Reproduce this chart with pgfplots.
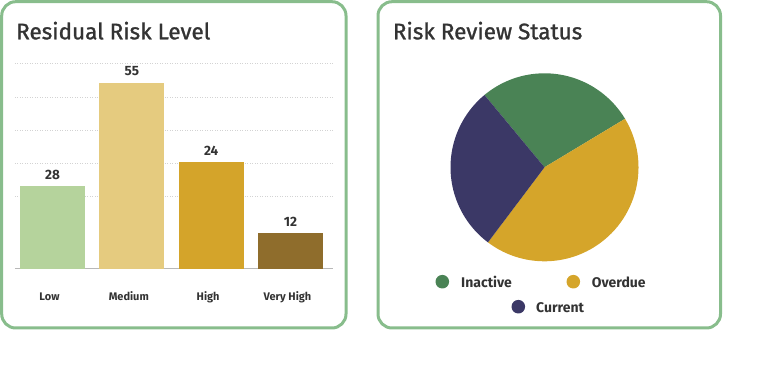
\documentclass[border=0pt]{standalone}
\usepackage{pgfplots}
\pgfplotsset{compat=1.18}
\usepackage{fontspec}
\setmainfont{Fira Sans}
\newfontfamily\titlefont{Fira Sans}[FakeBold=1.2]
\definecolor{panel}{HTML}{88BD8C}
\definecolor{txt}{HTML}{333333}
\definecolor{cLow}{HTML}{B5D39C}
\definecolor{cMed}{HTML}{E5CB7F}
\definecolor{cHigh}{HTML}{D4A42A}
\definecolor{cVH}{HTML}{8F6D2C}
\definecolor{cInactive}{HTML}{4A8355}
\definecolor{cOverdue}{HTML}{D5A52A}
\definecolor{cCurrent}{HTML}{3B3866}
\definecolor{gridc}{HTML}{D3D3D3}
\definecolor{axisline}{HTML}{B8B8B8}
% pie shares (percent)
\def\vInactive{27.4}
\def\vOverdue{43.9}
\def\vCurrent{28.7}
\def\pieStart{129.7}
\begin{document}
\begin{tikzpicture}
\path[use as bounding box] (0pt,0pt) rectangle (770pt,366pt);
\draw[panel, line width=3pt, rounded corners=14pt] (1.7pt,364.3pt) rectangle (346pt,38pt);
\draw[panel, line width=3pt, rounded corners=14pt] (378pt,364.3pt) rectangle (720.5pt,38pt);
\node[anchor=base west, inner sep=0pt, text=txt, font=\titlefont\fontsize{22.5}{27}\selectfont] at (16pt,326.7pt) {Residual Risk Level};
\node[anchor=base west, inner sep=0pt, text=txt, font=\titlefont\fontsize{22.5}{27}\selectfont] at (392.7pt,326.7pt) {Risk Review Status};

\begin{axis}[
  at={(52.5pt,97pt)}, anchor=origin,
  scale only axis, width=318pt, height=219pt,
  xmin=-0.473, xmax=3.536, ymin=0, ymax=64.66,
  axis x line*=bottom, axis y line*=left,
  y axis line style={draw=none},
  x axis line style={axisline, line width=1pt},
  xtick={0,1,2,3}, xticklabels={Low,Medium,High,Very High},
  ytick={21.55,31.30,41.04,50.78,60.82}, yticklabels={},
  major tick length=0pt,
  ymajorgrids, grid style={gridc, line width=0.7pt, dash pattern=on 1pt off 1.5pt},
  xticklabel style={font=\bfseries\fontsize{11}{13}\selectfont, text=txt, anchor=base, inner sep=0pt, yshift=-32pt, xshift=-3pt},
  ybar, bar width=65pt, bar shift=0pt,
  nodes near coords, point meta=explicit symbolic,
  every node near coord/.append style={font=\bfseries\fontsize{13.5}{16}\selectfont, text=txt, anchor=south, inner sep=0pt, yshift=6.5pt},
  clip=false,
]
\addplot[fill=cLow, draw=none] coordinates {(0,24.5) [28]};
\addplot[fill=cMed, draw=none] coordinates {(1,55.0) [55]};
\addplot[fill=cHigh, draw=none] coordinates {(2,31.6) [24]};
\addplot[fill=cVH, draw=none] coordinates {(3,10.6) [12]};
\end{axis}

\pgfmathsetmacro\aA{\pieStart}
\pgfmathsetmacro\aB{\aA-3.6*\vInactive}
\pgfmathsetmacro\aC{\aB-3.6*\vOverdue}
\pgfmathsetmacro\aD{\aC-3.6*\vCurrent}
\pgfmathsetmacro\xA{cos(\aA)}\pgfmathsetmacro\yA{sin(\aA)}
\pgfmathsetmacro\xB{cos(\aB)}\pgfmathsetmacro\yB{sin(\aB)}
\pgfmathsetmacro\xC{cos(\aC)}\pgfmathsetmacro\yC{sin(\aC)}
\begin{axis}[
  at={(544.5pt,198.7pt)}, anchor=origin,
  scale only axis, width=188pt, height=188pt,
  xmin=-1, xmax=1, ymin=-1, ymax=1, hide axis, clip=false,
]
\fill[cInactive] (axis cs:0,0) -- (axis cs:\xA,\yA) arc[start angle=\aA, end angle=\aB, radius=94pt] -- cycle;
\fill[cOverdue] (axis cs:0,0) -- (axis cs:\xB,\yB) arc[start angle=\aB, end angle=\aC, radius=94pt] -- cycle;
\fill[cCurrent] (axis cs:0,0) -- (axis cs:\xC,\yC) arc[start angle=\aC, end angle=\aD, radius=94pt] -- cycle;
\end{axis}

\fill[cInactive] (442.3pt,84.3pt) circle[radius=6.8pt];
\fill[cOverdue] (573.3pt,84.3pt) circle[radius=6.8pt];
\fill[cCurrent] (518.3pt,59.3pt) circle[radius=6.8pt];
\node[anchor=base west, inner sep=0pt, text=txt, font=\bfseries\fontsize{14}{16}\selectfont] at (461pt,78.7pt) {Inactive};
\node[anchor=base west, inner sep=0pt, text=txt, font=\bfseries\fontsize{14}{16}\selectfont] at (591.7pt,78.7pt) {Overdue};
\node[anchor=base west, inner sep=0pt, text=txt, font=\bfseries\fontsize{14}{16}\selectfont] at (536pt,53.7pt) {Current};
\end{tikzpicture}
\end{document}
